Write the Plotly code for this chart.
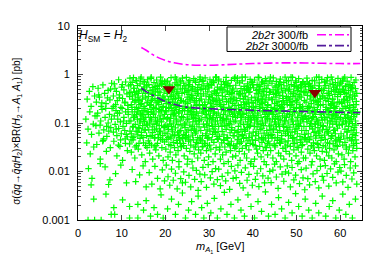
import plotly.graph_objects as go

# ---------------- data ----------------
# scan points (m_A1 [GeV], sigma x BR [pb]) grouped by cross-section band
pts_upper = [
(2.1,.31),(2.6,.45),(3.0,.22),(3.4,.56),(3.8,.36),
(4.2,.27),(4.6,.52),(4.9,.34),(5.3,.22),(5.7,.61),(6.1,.41),(6.4,.25),(6.9,.47),(7.3,.3),(7.7,.66),
(8.1,.36),(8.3,.64),(8.6,.24),(8.8,.45),(9.0,.29),(9.3,.78),(9.5,.38),(9.8,.21),(10.0,.55),(10.2,.32),(10.5,.48),(10.7,.26),(10.9,.7),(11.2,.4),(11.4,.23),(11.6,.58),(11.8,.35),(11.9,.84),
(12.1,.43),(12.2,.24),(12.4,.69),(12.5,.31),(12.7,.86),(12.8,.52),(13.0,.27),(13.1,.38),(13.3,.75),(13.4,.21),(13.6,.59),(13.7,.34),(13.9,.46),(14.0,.29),(14.2,.64),(14.3,.81),(14.5,.25),(14.6,.49),(14.8,.36),(14.9,.71),(15.1,.22),(15.2,.55),(15.4,.41),(15.5,.33),(15.7,.61),(15.8,.26),(15.9,.78),(12.9,.44),(13.8,.3),(15.0,.5),
(16.1,.35),(16.2,.62),(16.4,.23),(16.5,.47),(16.7,.83),(16.8,.29),(17.0,.54),(17.1,.39),(17.3,.21),(17.4,.68),(17.6,.32),(17.7,.44),(17.9,.26),(18.0,.77),(18.2,.51),(18.3,.37),(18.5,.24),(18.6,.58),(18.8,.42),(18.9,.88),(19.1,.28),(19.2,.65),(19.4,.34),(19.5,.22),(19.7,.48),(19.8,.72),(19.9,.31),(16.9,.4),(17.8,.57),(18.7,.3),
(20.1,.57),(20.2,.25),(20.4,.41),(20.5,.73),(20.7,.3),(20.8,.21),(21.0,.63),(21.1,.35),(21.3,.86),(21.4,.46),(21.6,.27),(21.7,.53),(21.9,.38),(22.0,.23),(22.2,.67),(22.3,.32),(22.5,.8),(22.6,.44),(22.8,.26),(22.9,.59),(23.1,.36),(23.2,.22),(23.4,.5),(23.5,.7),(23.7,.29),(23.8,.41),(23.9,.84),(21.2,.24),(22.1,.5),(23.0,.33),
(24.1,.28),(24.2,.66),(24.4,.43),(24.5,.22),(24.7,.52),(24.8,.87),(25.0,.34),(25.1,.25),(25.3,.61),(25.4,.39),(25.6,.76),(25.7,.3),(25.9,.48),(26.0,.21),(26.2,.56),(26.3,.37),(26.5,.82),(26.6,.27),(26.8,.45),(26.9,.69),(27.1,.32),(27.2,.24),(27.4,.54),(27.5,.4),(27.7,.62),(27.8,.29),(27.9,.79),(25.2,.47),(26.1,.33),(27.0,.23),
(28.1,.49),(28.2,.31),(28.4,.72),(28.5,.23),(28.7,.4),(28.8,.58),(29.0,.27),(29.1,.85),(29.3,.36),(29.4,.21),(29.6,.64),(29.7,.44),(29.9,.3),(30.0,.53),(30.2,.78),(30.3,.25),(30.5,.38),(30.6,.6),(30.8,.33),(30.9,.22),(31.1,.68),(31.2,.46),(31.4,.28),(31.5,.88),(31.7,.41),(31.8,.24),(31.9,.55),(29.2,.5),(30.1,.35),(31.0,.74),
(32.1,.37),(32.2,.8),(32.4,.26),(32.5,.5),(32.7,.22),(32.8,.63),(33.0,.42),(33.1,.31),(33.3,.71),(33.4,.24),(33.6,.55),(33.7,.35),(33.9,.87),(34.0,.28),(34.2,.46),(34.3,.66),(34.5,.21),(34.6,.39),(34.8,.58),(34.9,.3),(35.1,.76),(35.2,.43),(35.4,.25),(35.5,.52),(35.7,.34),(35.8,.83),(35.9,.23),(33.2,.48),(34.1,.6),(35.0,.32),
(36.1,.6),(36.2,.29),(36.4,.45),(36.5,.84),(36.7,.23),(36.8,.38),(37.0,.67),(37.1,.32),(37.3,.51),(37.4,.21),(37.6,.74),(37.7,.41),(37.9,.27),(38.0,.57),(38.2,.35),(38.3,.88),(38.5,.25),(38.6,.47),(38.8,.64),(38.9,.3),(39.1,.43),(39.2,.22),(39.4,.79),(39.5,.54),(39.7,.33),(39.8,.26),(39.9,.69),(37.2,.4),(38.1,.24),(39.0,.5),
(40.1,.26),(40.2,.53),(40.4,.77),(40.5,.34),(40.7,.22),(40.8,.47),(41.0,.62),(41.1,.29),(41.3,.4),(41.4,.86),(41.6,.24),(41.7,.56),(41.9,.36),(42.0,.7),(42.2,.31),(42.3,.21),(42.5,.45),(42.6,.65),(42.8,.27),(42.9,.82),(43.1,.38),(43.2,.51),(43.4,.23),(43.5,.6),(43.7,.33),(43.8,.43),(43.9,.73),(41.2,.49),(42.1,.25),(43.0,.3),
(44.1,.44),(44.2,.21),(44.4,.66),(44.5,.3),(44.7,.85),(44.8,.39),(45.0,.25),(45.1,.55),(45.3,.34),(45.4,.72),(45.6,.23),(45.7,.48),(45.9,.61),(46.0,.28),(46.2,.37),(46.3,.8),(46.5,.22),(46.6,.52),(46.8,.42),(46.9,.32),(47.1,.68),(47.2,.26),(47.4,.88),(47.5,.46),(47.7,.35),(47.8,.58),(47.9,.24),(45.2,.41),(46.1,.63),(47.0,.29),
(48.1,.33),(48.2,.75),(48.4,.5),(48.5,.23),(48.7,.4),(48.8,.62),(49.0,.28),(49.1,.87),(49.3,.44),(49.4,.21),(49.6,.57),(49.7,.36),(49.9,.69),(50.0,.26),(50.2,.47),(50.3,.31),(50.5,.82),(50.6,.39),(50.8,.24),(50.9,.6),(51.1,.34),(51.2,.53),(51.4,.22),(51.5,.71),(51.7,.42),(51.8,.29),(51.9,.64),(49.2,.35),(50.1,.55),(51.0,.45),
(52.1,.56),(52.2,.27),(52.4,.84),(52.5,.37),(52.7,.22),(52.8,.48),(53.0,.65),(53.1,.31),(53.3,.42),(53.4,.25),(53.6,.76),(53.7,.53),(53.9,.34),(54.0,.21),(54.2,.6),(54.3,.29),(54.5,.44),(54.6,.88),(54.8,.38),(54.9,.24),(55.1,.51),(55.2,.67),(55.4,.32),(55.5,.23),(55.7,.46),(55.8,.79),(55.9,.36),(53.2,.57),(54.1,.4),(55.0,.28),
(56.1,.24),(56.2,.47),(56.4,.7),(56.5,.33),(56.7,.59),(56.8,.21),(57.0,.41),(57.1,.86),(57.3,.28),(57.4,.52),(57.6,.37),(57.7,.64),(57.9,.23),(58.0,.45),(58.2,.78),(58.3,.31),(58.5,.55),(58.6,.26),(58.8,.39),(58.9,.68),(59.1,.22),(59.2,.5),(59.4,.35),(59.5,.83),(59.7,.43),(59.8,.27),(59.9,.61),(57.2,.32),(58.1,.25),(59.0,.48),
(60.1,.39),(60.2,.66),(60.4,.25),(60.5,.5),(60.7,.81),(60.8,.3),(61.0,.43),(61.1,.22),(61.3,.58),(61.4,.35),(61.6,.73),(61.7,.27),(61.9,.47),(62.0,.62),(62.2,.23),(62.3,.38),(62.5,.87),(62.6,.54),(62.8,.31),(62.9,.44),(63.1,.24),(63.2,.69),(63.4,.36),(63.5,.51),(63.7,.28),(63.8,.41),(63.6,.77),(61.2,.56),(62.1,.33),(63.0,.21),
]

pts_middle = [
(1.8,.12),(2.3,.075),(2.7,.17),(3.1,.058),(3.5,.095),(3.9,.14),
(4.1,.088),(4.5,.16),(4.8,.062),(5.2,.11),(5.5,.19),(5.9,.072),(6.2,.13),(6.6,.053),(6.9,.1),(7.2,.15),(7.5,.08),(7.8,.2),
(8.1,.065),(8.3,.14),(8.5,.094),(8.7,.18),(8.9,.055),(9.1,.12),(9.3,.077),(9.5,.16),(9.7,.105),(9.9,.06),(10.1,.2),(10.3,.085),(10.5,.13),(10.7,.07),(10.9,.17),(11.1,.098),(11.3,.052),(11.5,.15),(11.7,.11),(11.9,.068),
(12.1,.11),(12.2,.06),(12.4,.17),(12.5,.082),(12.7,.13),(12.8,.052),(13.0,.19),(13.1,.094),(13.3,.068),(13.4,.15),(13.6,.12),(13.7,.057),(13.9,.2),(14.0,.077),(14.2,.1),(14.3,.16),(14.5,.064),(14.6,.14),(14.8,.088),(14.9,.05),(15.1,.18),(15.2,.107),(15.4,.072),(15.5,.13),(15.7,.055),(15.8,.17),(15.9,.09),(12.9,.14),(13.8,.08),(15.0,.12),
(16.1,.15),(16.2,.072),(16.4,.1),(16.5,.053),(16.7,.19),(16.8,.12),(17.0,.083),(17.1,.064),(17.3,.16),(17.4,.095),(17.6,.05),(17.7,.13),(17.9,.2),(18.0,.076),(18.2,.11),(18.3,.058),(18.5,.17),(18.6,.088),(18.8,.14),(18.9,.068),(19.1,.105),(19.2,.18),(19.4,.055),(19.5,.125),(19.7,.08),(19.8,.15),(19.9,.062),(16.9,.17),(17.8,.11),(18.7,.19),
(20.1,.09),(20.2,.17),(20.4,.06),(20.5,.13),(20.7,.074),(20.8,.2),(21.0,.11),(21.1,.052),(21.3,.15),(21.4,.085),(21.6,.066),(21.7,.18),(21.9,.1),(22.0,.057),(22.2,.14),(22.3,.079),(22.5,.12),(22.6,.19),(22.8,.063),(22.9,.093),(23.1,.16),(23.2,.05),(23.4,.11),(23.5,.07),(23.7,.135),(23.8,.087),(23.9,.18),(21.2,.125),(22.1,.16),(23.0,.055),
(24.1,.13),(24.2,.058),(24.4,.18),(24.5,.08),(24.7,.1),(24.8,.065),(25.0,.15),(25.1,.2),(25.3,.052),(25.4,.12),(25.6,.09),(25.7,.17),(25.9,.07),(26.0,.14),(26.2,.056),(26.3,.105),(26.5,.19),(26.6,.078),(26.8,.125),(26.9,.062),(27.1,.16),(27.2,.095),(27.4,.05),(27.5,.14),(27.7,.083),(27.8,.115),(27.9,.2),(25.2,.072),(26.1,.17),(27.0,.11),
(28.1,.07),(28.2,.12),(28.4,.16),(28.5,.055),(28.7,.095),(28.8,.19),(29.0,.082),(29.1,.13),(29.3,.06),(29.4,.15),(29.6,.11),(29.7,.05),(29.9,.175),(30.0,.088),(30.2,.068),(30.3,.14),(30.5,.2),(30.6,.1),(30.8,.058),(30.9,.12),(31.1,.076),(31.2,.17),(31.4,.092),(31.5,.064),(31.7,.145),(31.8,.053),(31.9,.11),(29.2,.185),(30.1,.125),(31.0,.16),
(32.1,.16),(32.2,.085),(32.4,.053),(32.5,.13),(32.7,.1),(32.8,.19),(33.0,.067),(33.1,.115),(33.3,.15),(33.4,.057),(33.6,.09),(33.7,.18),(33.9,.074),(34.0,.12),(34.2,.05),(34.3,.14),(34.5,.097),(34.6,.2),(34.8,.063),(34.9,.11),(35.1,.17),(35.2,.08),(35.4,.135),(35.5,.055),(35.7,.105),(35.8,.16),(35.9,.07),(33.2,.125),(34.1,.088),(35.0,.19),
(36.1,.11),(36.2,.195),(36.4,.064),(36.5,.14),(36.7,.085),(36.8,.052),(37.0,.17),(37.1,.1),(37.3,.073),(37.4,.13),(37.6,.058),(37.7,.155),(37.9,.093),(38.0,.2),(38.2,.067),(38.3,.12),(38.5,.05),(38.6,.16),(38.8,.08),(38.9,.105),(39.1,.185),(39.2,.06),(39.4,.14),(39.5,.09),(39.7,.115),(39.8,.054),(39.9,.17),(37.2,.15),(38.1,.075),(39.0,.13),
(40.1,.065),(40.2,.14),(40.4,.1),(40.5,.18),(40.7,.055),(40.8,.12),(41.0,.083),(41.1,.16),(41.3,.06),(41.4,.095),(41.6,.2),(41.7,.073),(41.9,.13),(42.0,.05),(42.2,.11),(42.3,.17),(42.5,.088),(42.6,.062),(42.8,.15),(42.9,.1),(43.1,.19),(43.2,.07),(43.4,.125),(43.5,.057),(43.7,.16),(43.8,.086),(43.9,.11),(41.2,.145),(42.1,.078),(43.0,.135),
(44.1,.17),(44.2,.09),(44.4,.058),(44.5,.12),(44.7,.076),(44.8,.15),(45.0,.105),(45.1,.05),(45.3,.19),(45.4,.083),(45.6,.135),(45.7,.064),(45.9,.1),(46.0,.16),(46.2,.07),(46.3,.115),(46.5,.2),(46.6,.055),(46.8,.14),(46.9,.092),(47.1,.068),(47.2,.175),(47.4,.11),(47.5,.06),(47.7,.13),(47.8,.08),(47.9,.155),(45.2,.125),(46.1,.085),(47.0,.18),
(48.1,.1),(48.2,.055),(48.4,.15),(48.5,.082),(48.7,.19),(48.8,.12),(49.0,.065),(49.1,.14),(49.3,.093),(49.4,.05),(49.6,.17),(49.7,.075),(49.9,.11),(50.0,.2),(50.2,.06),(50.3,.13),(50.5,.087),(50.6,.16),(50.8,.053),(50.9,.1),(51.1,.145),(51.2,.07),(51.4,.12),(51.5,.185),(51.7,.085),(51.8,.058),(51.9,.135),(49.2,.17),(50.1,.078),(51.0,.11),
(52.1,.14),(52.2,.07),(52.4,.105),(52.5,.2),(52.7,.06),(52.8,.125),(53.0,.085),(53.1,.16),(53.3,.052),(53.4,.11),(53.6,.18),(53.7,.076),(53.9,.135),(54.0,.064),(54.2,.095),(54.3,.15),(54.5,.055),(54.6,.12),(54.8,.19),(54.9,.08),(55.1,.1),(55.2,.068),(55.4,.165),(55.5,.09),(55.7,.13),(55.8,.05),(55.9,.115),(53.2,.098),(54.1,.175),(55.0,.062),
(56.1,.088),(56.2,.16),(56.4,.056),(56.5,.12),(56.7,.19),(56.8,.074),(57.0,.13),(57.1,.1),(57.3,.062),(57.4,.15),(57.6,.082),(57.7,.2),(57.9,.11),(58.0,.052),(58.2,.14),(58.3,.095),(58.5,.07),(58.6,.175),(58.8,.12),(58.9,.06),(59.1,.105),(59.2,.155),(59.4,.078),(59.5,.13),(59.7,.05),(59.8,.09),(59.9,.18),(57.2,.066),(58.1,.125),(59.0,.145),
(60.1,.13),(60.2,.06),(60.4,.17),(60.5,.092),(60.7,.11),(60.8,.054),(61.0,.15),(61.1,.075),(61.3,.2),(61.4,.1),(61.6,.065),(61.7,.14),(61.9,.085),(62.0,.18),(62.2,.05),(62.3,.12),(62.5,.07),(62.6,.16),(62.8,.097),(62.9,.058),(63.1,.135),(63.2,.08),(63.4,.19),(63.5,.11),(63.7,.063),(63.8,.15),(63.6,.09),(61.2,.125),(62.1,.105),(63.0,.17),
]

pts_fill = [
(4.35,.14),(4.75,.38),(5.05,.09),(5.45,.26),(5.85,.047),(6.35,.2),(6.75,.33),(7.05,.068),(7.45,.5),(7.65,.12),(5.65,.042),(6.55,.085),
(8.15,.22),(8.45,.52),(8.75,.075),(9.05,.16),(9.45,.33),(9.75,.045),(10.15,.62),(10.45,.11),(10.75,.27),(11.05,.058),(11.45,.19),(11.75,.42),(9.25,.035),(10.85,.038),
(12.05,.62),(12.15,.045),(12.35,.21),(12.45,.36),(12.65,.085),(12.75,.52),(12.95,.13),(13.05,.032),(13.25,.29),(13.35,.74),(13.55,.066),(13.65,.17),(13.85,.41),(13.95,.038),(14.15,.11),(14.25,.24),(14.45,.88),(14.55,.055),(14.75,.31),(14.85,.15),(15.05,.48),(15.15,.072),(15.35,.2),(15.45,.034),(15.65,.095),(15.75,.58),(15.95,.27),(12.55,.05),(13.45,.44),(14.35,.12),(15.25,.7),(14.65,.18),
(16.05,.17),(16.15,.41),(16.35,.038),(16.45,.11),(16.65,.24),(16.75,.88),(16.95,.055),(17.05,.31),(17.25,.15),(17.35,.48),(17.55,.072),(17.65,.2),(17.85,.034),(17.95,.095),(18.15,.58),(18.25,.27),(18.45,.05),(18.55,.44),(18.75,.12),(18.85,.7),(19.05,.18),(19.15,.62),(19.35,.045),(19.45,.21),(19.65,.36),(19.75,.085),(19.95,.52),(16.55,.13),(17.45,.032),(18.35,.29),(19.25,.74),(18.65,.066),
(20.05,.18),(20.15,.7),(20.35,.12),(20.45,.44),(20.65,.05),(20.75,.27),(20.95,.58),(21.05,.095),(21.25,.034),(21.35,.2),(21.55,.072),(21.65,.48),(21.85,.15),(21.95,.31),(22.15,.055),(22.25,.88),(22.45,.24),(22.55,.11),(22.75,.038),(22.85,.41),(23.05,.17),(23.15,.066),(23.35,.74),(23.45,.29),(23.65,.032),(23.75,.13),(23.95,.52),(20.55,.085),(21.45,.36),(22.35,.21),(23.25,.045),(22.65,.62),
(24.05,.2),(24.15,.034),(24.35,.095),(24.45,.58),(24.65,.27),(24.75,.05),(24.95,.44),(25.05,.12),(25.25,.7),(25.35,.18),(25.55,.62),(25.65,.045),(25.85,.21),(25.95,.36),(26.15,.085),(26.25,.52),(26.45,.13),(26.55,.032),(26.75,.29),(26.85,.74),(27.05,.066),(27.15,.17),(27.35,.41),(27.45,.038),(27.65,.11),(27.75,.24),(27.95,.88),(24.55,.055),(25.45,.31),(26.35,.15),(27.25,.48),(26.65,.072),
(28.05,.045),(28.15,.36),(28.35,.52),(28.45,.032),(28.65,.74),(28.75,.17),(28.95,.038),(29.05,.24),(29.25,.055),(29.35,.15),(29.55,.072),(29.65,.034),(29.85,.58),(29.95,.05),(30.15,.12),(30.25,.18),(30.45,.62),(30.55,.21),(30.75,.085),(30.85,.13),(31.05,.29),(31.15,.066),(31.35,.41),(31.45,.11),(31.65,.88),(31.75,.31),(31.95,.48),(28.55,.2),(29.45,.095),(30.35,.27),(31.25,.44),(30.65,.7),
(32.05,.066),(32.15,.74),(32.35,.29),(32.45,.032),(32.65,.13),(32.75,.52),(32.95,.085),(33.05,.36),(33.25,.21),(33.35,.045),(33.55,.62),(33.65,.18),(33.85,.7),(33.95,.12),(34.15,.44),(34.25,.05),(34.45,.27),(34.55,.58),(34.75,.095),(34.85,.034),(35.05,.2),(35.15,.072),(35.35,.48),(35.45,.15),(35.65,.31),(35.75,.055),(35.95,.88),(32.55,.24),(33.45,.11),(34.35,.038),(35.25,.41),(34.65,.17),
(36.05,.13),(36.15,.032),(36.35,.29),(36.45,.74),(36.65,.066),(36.75,.17),(36.95,.41),(37.05,.038),(37.25,.11),(37.35,.24),(37.55,.88),(37.65,.055),(37.85,.31),(37.95,.15),(38.15,.48),(38.25,.072),(38.45,.2),(38.55,.034),(38.75,.095),(38.85,.58),(39.05,.27),(39.15,.05),(39.35,.44),(39.45,.12),(39.65,.7),(39.75,.18),(39.95,.62),(36.55,.045),(37.45,.21),(38.35,.36),(39.25,.085),(38.65,.52),
(40.05,.62),(40.15,.21),(40.35,.085),(40.45,.13),(40.65,.29),(40.75,.066),(40.95,.41),(41.05,.11),(41.25,.88),(41.35,.31),(41.55,.48),(41.65,.2),(41.85,.095),(41.95,.27),(42.15,.44),(42.25,.7),(42.45,.045),(42.55,.36),(42.75,.52),(42.85,.032),(43.05,.74),(43.15,.17),(43.35,.038),(43.45,.24),(43.65,.055),(43.75,.15),(43.95,.072),(40.55,.034),(41.45,.58),(42.35,.05),(43.25,.12),(42.65,.18),
(44.05,.88),(44.15,.055),(44.35,.31),(44.45,.15),(44.65,.48),(44.75,.072),(44.95,.2),(45.05,.034),(45.25,.095),(45.35,.58),(45.55,.27),(45.65,.05),(45.85,.44),(45.95,.12),(46.15,.7),(46.25,.18),(46.45,.62),(46.55,.045),(46.75,.21),(46.85,.36),(47.05,.085),(47.15,.52),(47.35,.13),(47.45,.032),(47.65,.29),(47.75,.74),(47.95,.066),(44.55,.17),(45.45,.41),(46.35,.038),(47.25,.11),(46.65,.24),
(48.05,.072),(48.15,.48),(48.35,.15),(48.45,.31),(48.65,.055),(48.75,.88),(48.95,.24),(49.05,.11),(49.25,.038),(49.35,.41),(49.55,.17),(49.65,.066),(49.85,.74),(49.95,.29),(50.15,.032),(50.25,.13),(50.45,.52),(50.55,.085),(50.75,.36),(50.85,.21),(51.05,.045),(51.15,.62),(51.35,.18),(51.45,.7),(51.65,.12),(51.75,.44),(51.95,.05),(48.55,.27),(49.45,.58),(50.35,.095),(51.25,.034),(50.65,.2),
(52.05,.05),(52.15,.44),(52.35,.12),(52.45,.7),(52.65,.18),(52.75,.62),(52.95,.045),(53.05,.21),(53.25,.36),(53.35,.085),(53.55,.52),(53.65,.13),(53.85,.032),(53.95,.29),(54.15,.74),(54.25,.066),(54.45,.17),(54.55,.41),(54.75,.038),(54.85,.11),(55.05,.24),(55.15,.88),(55.35,.055),(55.45,.31),(55.65,.15),(55.75,.48),(55.95,.072),(52.55,.2),(53.45,.034),(54.35,.095),(55.25,.58),(54.65,.27),
(56.05,.36),(56.15,.085),(56.35,.52),(56.45,.13),(56.65,.032),(56.75,.29),(56.95,.74),(57.05,.066),(57.25,.17),(57.35,.41),(57.55,.038),(57.65,.11),(57.85,.24),(57.95,.88),(58.15,.055),(58.25,.31),(58.45,.15),(58.55,.48),(58.75,.072),(58.85,.2),(59.05,.034),(59.15,.095),(59.35,.58),(59.45,.27),(59.65,.05),(59.75,.44),(59.95,.12),(56.55,.7),(57.45,.18),(58.35,.62),(59.25,.045),(58.65,.21),
(60.05,.7),(60.15,.44),(60.35,.27),(60.45,.095),(60.65,.2),(60.75,.48),(60.95,.31),(61.05,.88),(61.25,.11),(61.35,.41),(61.55,.066),(61.65,.29),(61.85,.13),(61.95,.085),(62.15,.21),(62.25,.62),(62.45,.18),(62.55,.12),(62.75,.05),(62.85,.58),(63.05,.034),(63.15,.072),(63.35,.15),(63.45,.055),(63.65,.24),(63.75,.038),(63.95,.17),(60.55,.74),(61.45,.032),(62.35,.52),(63.25,.36),(62.65,.045),
]

pts_lower = [
(2.0,.039),(2.8,.023),(3.6,.032),
(4.3,.036),(5.1,.018),(5.8,.044),(6.5,.026),(7.4,.031),
(8.2,.042),(8.9,.021),(9.6,.033),(10.2,.017),(10.8,.047),(11.3,.027),(11.8,.037),
(12.2,.025),(12.6,.045),(13.0,.019),(13.4,.034),(13.8,.029),(14.2,.048),(14.6,.022),(15.0,.039),(15.4,.016),(15.8,.031),
(16.1,.043),(16.4,.024),(16.8,.035),(17.1,.018),(17.5,.049),(17.8,.028),(18.2,.038),(18.5,.021),(18.9,.046),(19.2,.031),(19.5,.017),(19.8,.041),
(20.1,.029),(20.3,.046),(20.6,.02),(20.8,.036),(21.1,.025),(21.3,.049),(21.6,.017),(21.8,.04),(22.1,.031),(22.4,.022),(22.6,.044),(22.9,.027),(23.1,.016),(23.4,.038),(23.6,.033),(23.9,.048),
(24.1,.038),(24.3,.021),(24.6,.047),(24.8,.03),(25.1,.018),(25.3,.042),(25.6,.026),(25.8,.035),(26.1,.016),(26.4,.045),(26.6,.023),(26.9,.032),(27.1,.04),(27.4,.019),(27.6,.028),(27.9,.049),
(28.1,.024),(28.4,.043),(28.6,.033),(28.9,.017),(29.1,.038),(29.4,.027),(29.6,.048),(29.9,.02),(30.1,.035),(30.4,.029),(30.6,.045),(30.9,.016),(31.1,.04),(31.4,.023),(31.6,.031),(31.9,.046),
(32.1,.047),(32.4,.028),(32.6,.018),(32.9,.039),(33.1,.022),(33.4,.044),(33.6,.032),(33.9,.025),(34.1,.049),(34.4,.016),(34.6,.036),(34.9,.027),(35.1,.042),(35.4,.02),(35.6,.034),(35.9,.03),
(36.1,.021),(36.4,.037),(36.6,.046),(36.9,.026),(37.1,.017),(37.4,.041),(37.6,.03),(37.9,.048),(38.1,.023),(38.4,.034),(38.6,.019),(38.9,.043),(39.1,.028),(39.4,.038),(39.6,.016),(39.9,.045),
(40.1,.036),(40.4,.018),(40.6,.044),(40.9,.029),(41.1,.024),(41.4,.047),(41.6,.033),(41.9,.02),(42.1,.04),(42.4,.027),(42.6,.016),(42.9,.049),(43.1,.031),(43.4,.022),(43.6,.042),(43.9,.035),
(44.1,.027),(44.4,.049),(44.6,.019),(44.9,.037),(45.1,.032),(45.4,.016),(45.6,.044),(45.9,.024),(46.1,.039),(46.4,.021),(46.6,.047),(46.9,.03),(47.1,.018),(47.4,.041),(47.6,.026),(47.9,.035),
(48.1,.043),(48.4,.023),(48.6,.033),(48.9,.017),(49.1,.048),(49.4,.028),(49.6,.038),(49.9,.021),(50.1,.045),(50.4,.031),(50.6,.016),(50.9,.04),(51.1,.025),(51.4,.036),(51.6,.019),(51.9,.047),
(52.1,.019),(52.4,.041),(52.6,.029),(52.9,.046),(53.1,.024),(53.4,.034),(53.6,.016),(53.9,.039),(54.1,.027),(54.4,.049),(54.6,.021),(54.9,.036),(55.1,.031),(55.4,.018),(55.6,.044),(55.9,.026),
(56.1,.034),(56.4,.017),(56.6,.046),(56.9,.025),(57.1,.039),(57.4,.021),(57.6,.03),(57.9,.048),(58.1,.019),(58.4,.037),(58.6,.028),(58.9,.043),(59.1,.016),(59.4,.033),(59.6,.023),(59.9,.041),
(60.1,.046),(60.4,.022),(60.6,.035),(60.9,.018),(61.1,.04),(61.4,.029),(61.6,.049),(61.9,.024),(62.1,.032),(62.4,.016),(62.6,.043),(62.9,.027),(63.1,.037),(63.4,.02),(63.6,.045),(63.8,.03),
]

pts_tail = [
(2.4,.0115),(3.2,.0072),(3.0,.0053),
(5.1,.0145),(6.2,.0124),(7.3,.0067),
(7.0,.0054),(8.6,.009),(9.8,.0135),(11.1,.0058),
(12.4,.011),(13.2,.0062),(14.1,.0085),(14.9,.013),(15.6,.0048),
(16.3,.0095),(16.9,.0055),(17.6,.0128),(18.2,.0072),(18.8,.0044),(19.3,.0108),(19.8,.0064),
(20.2,.0135),(20.6,.0078),(21.0,.0052),(21.4,.0112),(21.8,.0066),(22.3,.0092),(22.7,.0044),(23.1,.0125),(23.5,.0071),(23.9,.0058),
(24.2,.0098),(24.6,.006),(25.0,.0142),(25.4,.0083),(25.8,.0048),(26.3,.0118),(26.7,.0069),(27.1,.0105),(27.5,.0041),(27.9,.0088),
(28.2,.0062),(28.6,.0122),(29.0,.0085),(29.4,.0047),(29.8,.0138),(30.3,.0074),(30.7,.0099),(31.1,.0055),(31.5,.0115),(31.9,.0068),
(32.2,.0112),(32.6,.0051),(33.0,.0079),(33.4,.0145),(33.8,.0064),(34.3,.0094),(34.7,.0043),(35.1,.0128),(35.5,.0072),(35.9,.0103),
(36.2,.0075),(36.6,.0135),(37.0,.0057),(37.4,.0096),(37.8,.0046),(38.3,.0119),(38.7,.0066),(39.1,.0087),(39.5,.0143),(39.9,.0052),
(40.2,.0128),(40.6,.0069),(41.0,.0092),(41.4,.0049),(41.8,.0114),(42.3,.0081),(42.7,.0058),(43.1,.0139),(43.5,.0073),(43.9,.0101),
(44.2,.0059),(44.6,.0107),(45.0,.0142),(45.4,.0077),(45.8,.0045),(46.3,.0125),(46.7,.0088),(47.1,.0063),(47.5,.0098),(47.9,.0131),
(48.2,.0093),(48.6,.0048),(49.0,.0121),(49.4,.0067),(49.8,.0084),(50.3,.0146),(50.7,.0056),(51.1,.0109),(51.5,.0074),(51.9,.0042),
(52.2,.0117),(52.6,.0071),(53.0,.0053),(53.4,.0136),(53.8,.0089),(54.3,.0062),(54.7,.0104),(55.1,.0046),(55.5,.0127),(55.9,.0079),
(56.2,.0066),(56.6,.0132),(57.0,.0091),(57.4,.005),(57.8,.0113),(58.3,.0076),(58.7,.0144),(59.1,.0058),(59.5,.0097),(59.9,.0121),
(60.2,.0102),(60.6,.0061),(61.0,.0138),(61.4,.0083),(61.8,.0047),(62.3,.0118),(62.7,.007),(63.1,.0094),(63.5,.0131),(63.8,.0055),
]

pts_floor = [
(2.3,.001),(3.8,.001),(5.3,.001),(3.6,.0027),(7.6,.0013),(8.4,.0013),(8.2,.0018),(11.8,.0019),(11.8,.0011),
(13.7,.0021),(13.7,.0011),(15.0,.0016),(15.6,.0025),(16.6,.0012),(17.4,.0018),(18.2,.0013),(19.0,.0033),(19.5,.0011),
(20.5,.0017),(21.4,.0027),(22.3,.0013),(23.0,.0021),(23.9,.0036),(24.6,.0011),(25.3,.0016),(26.0,.0024),(26.9,.0013),
(27.5,.0031),(28.3,.0018),(28.8,.0011),(29.6,.0022),(30.4,.0014),(31.2,.0028),(31.9,.0011),(32.7,.0017),(33.5,.0037),
(34.1,.0013),(35.0,.0021),(35.8,.0011),(36.6,.0026),(37.3,.0016),(38.1,.0012),(38.9,.0033),(39.6,.0019),(40.4,.0011),
(41.2,.0024),(42.0,.0015),(42.9,.0038),(43.6,.0012),(44.3,.0021),(45.1,.0013),(45.9,.0029),(46.6,.0017),(47.4,.0011),
(48.2,.0023),(49.0,.0014),(49.8,.0035),(50.5,.0019),(51.3,.0012),(52.0,.0027),(52.8,.0016),(53.6,.0011),(54.4,.0022),
(55.1,.0014),(55.9,.0031),(56.7,.0012),(57.5,.0019),(58.3,.0025),(59.0,.0011),(59.8,.0016),(60.6,.0034),(61.3,.0013),
(62.1,.0021),(62.8,.0011),(63.5,.0027),(10.2,.0026),(6.4,.0034),
]

# 2b2tau sensitivity curves
lim300_m = [14.5, 15.5, 17, 18.5, 20, 22, 24, 26, 28, 30, 33, 36, 40, 44, 48, 52, 56, 60, 64.6]
lim300_v = [3.6, 3.2, 2.6, 2.2, 1.95, 1.75, 1.63, 1.57, 1.55, 1.55, 1.58, 1.63, 1.68, 1.72, 1.74, 1.73, 1.70, 1.68, 1.68]
lim3000_m = [14.5, 15.5, 16.5, 18, 19.5, 21, 23, 25, 27.5, 30, 34, 38, 42, 46, 50, 54, 58, 62, 64.6]
lim3000_v = [0.52, 0.45, 0.40, 0.34, 0.29, 0.26, 0.23, 0.212, 0.203, 0.197, 0.19, 0.185, 0.18, 0.177, 0.174, 0.171, 0.168, 0.165, 0.163]

# benchmark points
bench_m = [20.8, 54.2]
bench_v = [0.50, 0.42]

y_tickvals = [0.001, 0.01, 0.1, 1, 10]
y_ticktext = ["0.001", "0.01", "0.1", "1", "10"]
legend_labels = ["<i>2b2τ</i> 300/fb", "<i>2b2τ</i> 3000/fb"]

# ---------------- figure ----------------
all_pts = pts_upper + pts_middle + pts_fill + pts_lower + pts_tail + pts_floor
scan_m = [p[0] for p in all_pts]
scan_v = [p[1] for p in all_pts]

FONT = "Liberation Sans, Arial, sans-serif"
GREEN = "#00ff00"
PURPLE = "#541c9c"
fig = go.Figure()
fig.add_trace(go.Scatter(
    x=scan_m, y=scan_v, mode="markers",
    marker=dict(symbol="cross-thin-open", size=4.6, color=GREEN,
                line=dict(color=GREEN, width=1.2)),
    showlegend=False, hoverinfo="skip"))
fig.add_trace(go.Scatter(
    x=lim300_m, y=lim300_v, mode="lines",
    line=dict(color="#ff00ff", width=1.6, dash="dashdot", shape="spline"),
    showlegend=False))
fig.add_trace(go.Scatter(
    x=lim3000_m, y=lim3000_v, mode="lines",
    line=dict(color=PURPLE, width=1.6, dash="dashdot", shape="spline"),
    showlegend=False))
fig.add_trace(go.Scatter(
    x=bench_m, y=bench_v, mode="markers",
    marker=dict(symbol="triangle-down", size=11, color="#8b0000"),
    showlegend=False))

L, R, T, B = 70, 20, 14, 50
W, H = 374, 262
pw, ph = W - L - R, H - T - B

def px(xp):
    return (xp - L) / pw

def py(yp):
    return (H - B - yp) / ph

shapes = [
    dict(type="rect", xref="paper", yref="paper", x0=px(219), x1=px(343), y0=py(40), y1=py(15),
         line=dict(color="black", width=1), fillcolor="white", layer="above"),
    dict(type="line", xref="paper", yref="paper", x0=px(309), x1=px(341), y0=py(23), y1=py(23),
         line=dict(color="#ff00ff", width=1.6, dash="dashdot"), layer="above"),
    dict(type="line", xref="paper", yref="paper", x0=px(309), x1=px(341), y0=py(34), y1=py(34),
         line=dict(color=PURPLE, width=1.6, dash="dashdot"), layer="above"),
]
annotations = [
    dict(xref="paper", yref="paper", x=px(302), y=py(23), xanchor="right", yanchor="middle",
         text=legend_labels[0], showarrow=False, font=dict(size=11, color="black", family=FONT)),
    dict(xref="paper", yref="paper", x=px(302), y=py(34), xanchor="right", yanchor="middle",
         text=legend_labels[1], showarrow=False, font=dict(size=11, color="black", family=FONT)),
    dict(xref="paper", yref="paper", x=px(69), y=py(24), xanchor="left", yanchor="middle",
         text="<i>H</i><sub>SM</sub> = <i>H</i><sub>2</sub>", showarrow=False,
         font=dict(size=12, color="black", family=FONT)),
    dict(xref="paper", yref="paper", x=px(212), y=py(240), xanchor="center", yanchor="middle",
         text="<i>m</i><sub><i>A</i><sub>1</sub></sub> [GeV]", showarrow=False,
         font=dict(size=11, color="black", family=FONT)),
    dict(xref="paper", yref="paper", x=px(9), y=py(122), xanchor="center", yanchor="middle",
         textangle=-90,
         text="σ(<i>q̄q</i>→<i>q̄qH</i><sub>2</sub>)×BR(<i>H</i><sub>2</sub>→<i>A</i><sub>1</sub> <i>A</i><sub>1</sub>) [pb]",
         showarrow=False, font=dict(size=10, color="black", family=FONT)),
]

fig.update_layout(
    width=W, height=H,
    margin=dict(l=L, r=R, t=T, b=B),
    paper_bgcolor="white", plot_bgcolor="white",
    font=dict(family=FONT, size=11, color="black"),
    showlegend=False,
    shapes=shapes, annotations=annotations,
    xaxis=dict(range=[0, 65], tick0=0, dtick=10, ticks="inside", ticklen=5,
               showline=True, linecolor="black", linewidth=1, mirror="allticks",
               showgrid=False, zeroline=False, tickfont=dict(size=11),
               ticklabelstandoff=3),
    yaxis=dict(type="log", range=[-3, 1], tickmode="array", tickvals=y_tickvals,
               ticktext=y_ticktext, ticks="inside", ticklen=5,
               showline=True, linecolor="black", linewidth=1, mirror="allticks",
               showgrid=False, zeroline=False, tickfont=dict(size=11),
               ticklabelstandoff=5,
               minor=dict(ticks="inside", ticklen=2.5, dtick="D1", showgrid=False)),
)

fig.write_html("out.html")
